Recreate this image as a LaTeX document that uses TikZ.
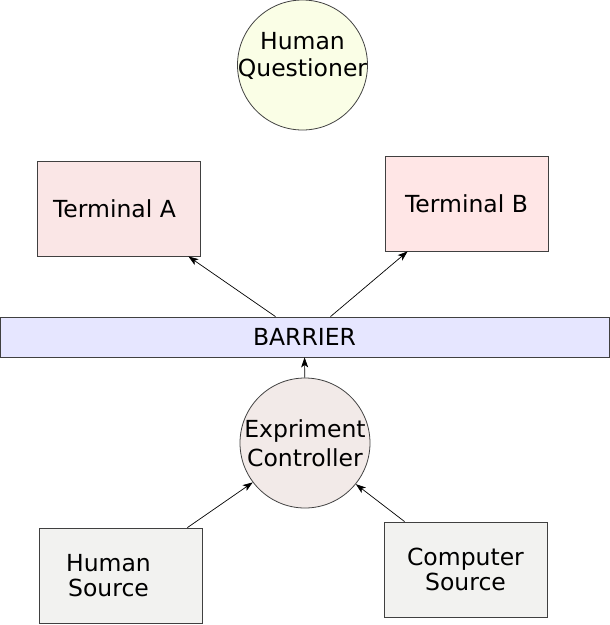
\documentclass[tikz,border=0pt]{standalone}
\usepackage{fontspec}
\setmainfont{DejaVu Sans}
\usetikzlibrary{arrows.meta}

\definecolor{questfill}{RGB}{250,254,230}
\definecolor{termafill}{RGB}{250,230,230}
\definecolor{termbfill}{RGB}{255,230,230}
\definecolor{barrierfill}{RGB}{230,230,255}
\definecolor{ctrlfill}{RGB}{242,234,232}
\definecolor{srcfill}{RGB}{242,242,240}
\definecolor{edge}{RGB}{64,64,64}

\begin{document}
\begin{tikzpicture}[x=1pt,y=-1pt,
    every node/.style={font=\fontsize{23.5}{27.5}\selectfont,align=center,draw=edge,line width=0.8pt},
    box/.style={rectangle,minimum width=163pt,minimum height=95pt,inner sep=0pt},
    disc/.style={circle,minimum size=130pt,inner sep=-14pt},
    link/.style={line width=0.7pt,-{Stealth[length=10pt,width=7pt,inset=2.5pt]}}]
        \useasboundingbox (0,0) rectangle (610,625);

        \node[disc,fill=questfill] (quest) at (302.5,65) {Human\\Questioner\\[-6pt]};
        \node[box,fill=termafill] (terma) at (118.5,208.5) {Terminal A\hspace*{8pt}};
        \node[box,fill=termbfill] (termb) at (466.5,203.5) {Terminal B};
        \node[rectangle,minimum width=609pt,minimum height=40pt,inner sep=0pt,fill=barrierfill] (barrier) at (304.5,337) {BARRIER};
        \node[disc,fill=ctrlfill] (ctrl) at (305,443) {Expriment\\[2pt]Controller};
        \node[box,fill=srcfill] (hsrc) at (120.5,575.5) {Human\hspace*{24pt}\\[-2pt]Source\hspace*{24pt}};
        \node[box,fill=srcfill] (csrc) at (465.5,569.5) {Computer\\[-3pt]Source};

        \draw[link] ([xshift=-29pt]barrier.north) -- ([xshift=-12pt]terma.south east);
        \draw[link] ([xshift=26pt]barrier.north) -- ([xshift=23pt]termb.south west);
        \draw[link] (ctrl) -- (barrier);
        \draw[link] ([xshift=-15pt]hsrc.north east) -- (ctrl.217);
        \draw[link] ([xshift=21pt]csrc.north west) -- (ctrl.-39);
\end{tikzpicture}
\end{document}
